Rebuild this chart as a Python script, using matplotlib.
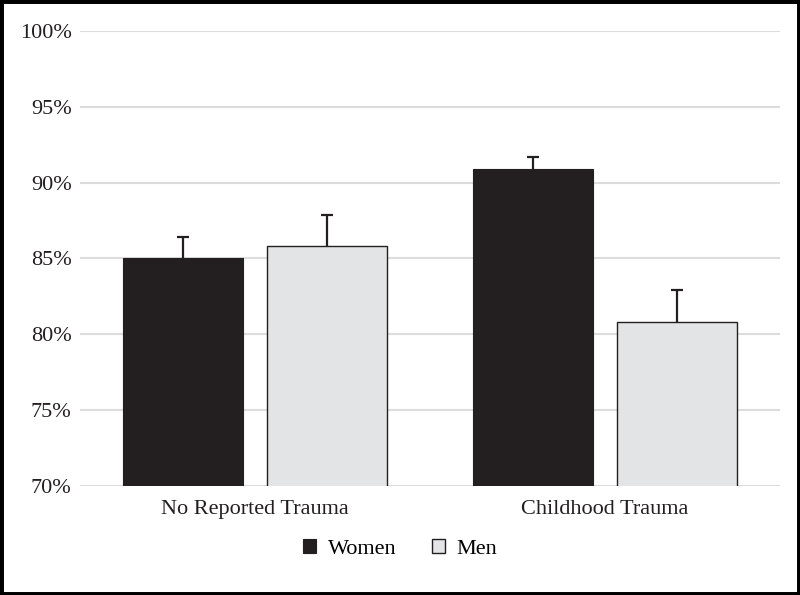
import matplotlib
matplotlib.use("Agg")
import matplotlib.pyplot as plt
import numpy as np

categories = ["No Reported Trauma", "Childhood Trauma"]
women = [85.0, 90.9]
men = [85.8, 80.8]
women_err = [1.4, 0.8]
men_err = [2.1, 2.1]
yticks = [70, 75, 80, 85, 90, 95, 100]

plt.rcParams['font.family'] = ['Liberation Serif', 'DejaVu Serif']

fig = plt.figure(figsize=(8, 5.95), dpi=100)
ax = fig.add_axes([0.1, 0.1832, 0.875, 0.7647])

x = np.arange(len(categories))
w = 0.343
off = 0.206
ekw = dict(ecolor='#231f20', elinewidth=1.6, capsize=4.5, capthick=1.6)
bw = ax.bar(x - off, women, w, color='#231f20', edgecolor='#231f20', linewidth=0.8,
            yerr=[np.zeros(2), women_err], error_kw=ekw, label='Women', zorder=3)
bm = ax.bar(x + off, men, w, color='#e3e4e6', edgecolor='#231f20', linewidth=1.0,
            yerr=[np.zeros(2), men_err], error_kw=ekw, label='Men', zorder=3)
for b in (bw, bm):
    caps = b.errorbar.lines[1]
    if caps:
        caps[0].set_visible(False)

ax.set_ylim(70, 100)
ax.set_xlim(-0.5, 1.5)
ax.set_yticks(yticks)
ax.set_yticklabels([f"{v}%" for v in yticks])
ax.set_xticks(x)
ax.set_xticklabels(categories)
ax.tick_params(axis='both', length=0, labelsize=16, colors='#231f20')
ax.tick_params(axis='x', pad=10)
ax.tick_params(axis='y', pad=6)
ax.yaxis.grid(True, color='#dcdcdc', linewidth=1.5, zorder=0)
ax.set_axisbelow(True)
for s in ax.spines.values():
    s.set_visible(False)

leg = fig.legend(loc='center', bbox_to_anchor=(0.5, 0.077), ncol=2, frameon=False,
                 fontsize=16, handlelength=0.6, handleheight=0.6, columnspacing=1.6, handletextpad=0.5)

fig.patches.append(plt.Rectangle((0, 0), 1, 1, transform=fig.transFigure, fill=False,
                                 edgecolor='black', linewidth=5, zorder=10))
fig.savefig("out.png", dpi=100)
